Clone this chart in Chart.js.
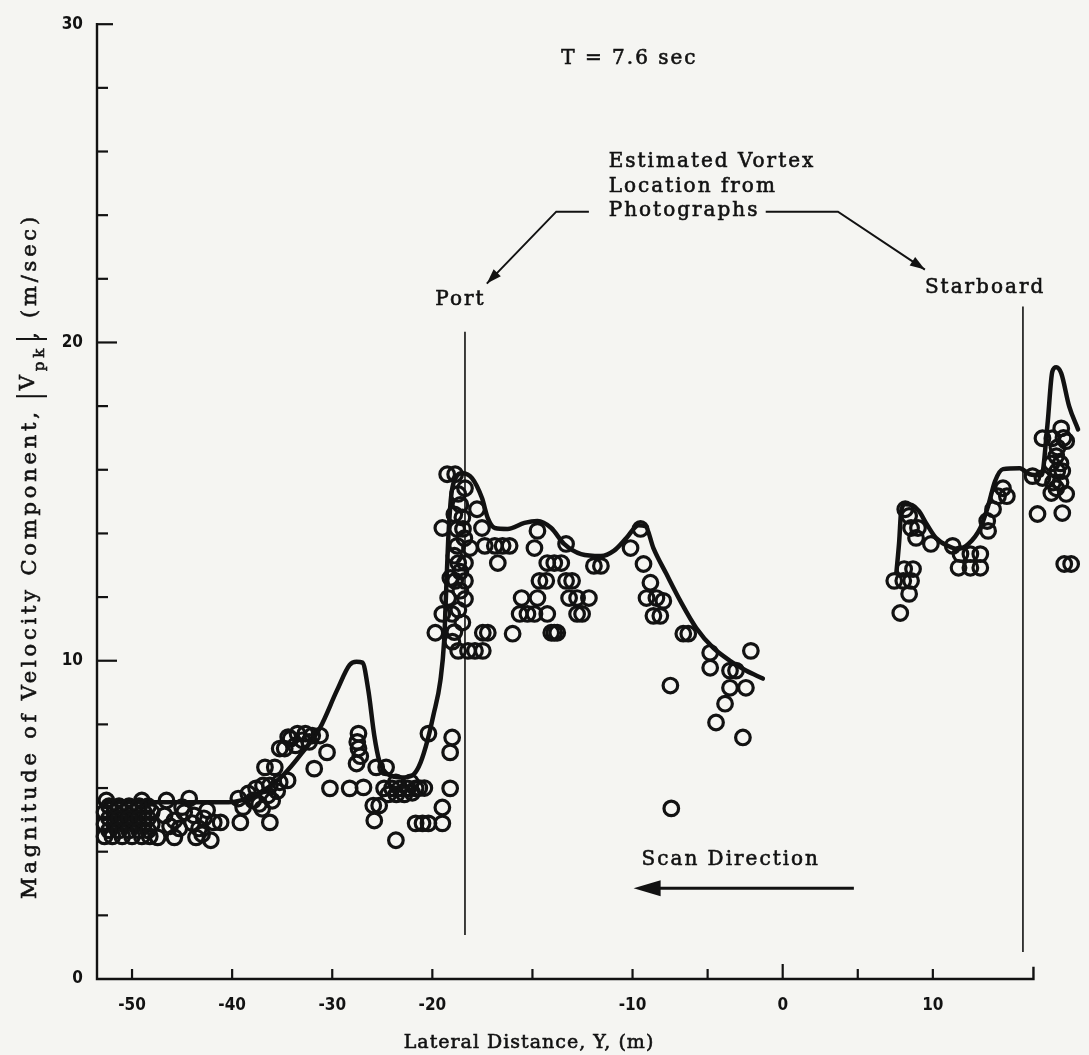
<!DOCTYPE html>
<html>
<head>
<meta charset="utf-8">
<title>Peak velocity component vs lateral distance, T = 7.6 sec</title>
<script src="https://cdn.jsdelivr.net/npm/chart.js@4.4.1/dist/chart.umd.min.js"></script>
<style>
  html, body { margin: 0; padding: 0; background: #f5f5f2; }
  #wrap { position: relative; width: 1089px; height: 1055px; }
</style>
</head>
<body>
<div id="wrap"><canvas id="vpkChart"></canvas></div>
<script>
// scan samples: lateral distance Y (m) and |Vpk| (m/s)
const farPortY = [
  -52.56, -49.02,
  -52.75, -51.77, -50.79, -49.80, -48.82, -48.03,
  -52.75, -51.77, -50.79, -49.80, -48.82, -48.03,
  -52.75, -51.97, -50.98, -50.00, -49.02, -48.23,
  -52.30, -51.30, -50.30, -49.30, -48.40,
  -52.30, -51.30, -50.30, -49.30, -48.40,
  -52.30, -51.30, -50.30, -49.30, -48.40,
  -47.44, -46.56, -44.29, -45.77, -43.61, -42.13, -46.75, -45.77, -44.79, -43.80,
  -42.82, -41.84, -45.28, -43.31, -41.15, -39.18, -36.23, -39.38, -38.39, -37.61,
  -45.00, -44.00, -42.50, -46.20, -43.00,
  -36.92, -36.23, -35.25, -34.46, -37.90, -36.43, -36.72, -35.74, -35.25, -34.75,
  -38.90, -37.30, -36.00, -35.50, -37.00,
  -34.16, -33.47, -32.69, -32.00, -33.67, -31.21, -30.52, -31.80, -30.23, -28.26,
  -33.00, -32.30, -34.40,
  -27.38, -27.38, -27.57, -26.88, -25.90, -25.31, -25.80, -25.61, -24.62,
  -27.50, -27.20,
  -24.82, -24.03, -23.25, -22.46, -21.67, -23.64, -22.16, -23.64, -21.67, -20.98,
  -24.40, -23.60, -22.80, -22.00, -21.30, -20.80,
  -20.39, -19.50, -19.50, -19.11, -20.39, -19.01, -19.11
];
const farPortV = [
  5.61, 5.61,
  5.24, 5.24, 5.24, 5.24, 5.24, 5.24,
  4.86, 4.86, 4.86, 4.86, 4.86, 4.86,
  4.48, 4.48, 4.48, 4.48, 4.48, 4.48,
  5.43, 5.43, 5.43, 5.43, 5.43,
  5.05, 5.05, 5.05, 5.05, 5.05,
  4.67, 4.67, 4.67, 4.67, 4.67,
  4.45, 5.61, 5.67, 4.45, 4.45, 4.36, 5.14, 4.98, 5.24, 5.14,
  5.05, 4.92, 4.73, 4.73, 4.92, 4.92, 4.92, 5.67, 5.83, 5.99,
  5.40, 4.90, 5.30, 4.80, 4.55,
  6.08, 6.08, 6.18, 6.24, 5.61, 5.77, 6.65, 6.65, 7.24, 7.24,
  5.40, 5.50, 5.60, 5.90, 5.35,
  7.55, 7.71, 7.71, 7.65, 7.34, 7.65, 7.12, 6.61, 5.99, 5.99,
  7.50, 7.45, 7.60,
  7.71, 7.24, 6.77, 6.02, 5.45, 5.45, 4.98, 6.65, 6.65,
  7.45, 7.00,
  5.99, 5.99, 5.99, 5.99, 5.99, 6.18, 6.18, 4.36, 4.89, 4.89,
  5.80, 5.80, 5.80, 5.85, 6.00, 6.00,
  4.89, 4.89, 5.39, 5.99, 7.71, 7.59, 7.12
];

const portY = [
  -19.26, -18.86, -18.71, -18.37, -17.77, -17.52, -19.50, -18.76, -18.47,
  -17.38, -16.88, -16.49, -16.14, -18.76, -18.12, -16.73, -18.71, -18.37,
  -18.86, -18.37, -19.21, -18.37, -19.50, -19.01, -19.85, -17.48, -17.23,
  -18.60, -18.90, -18.50, -18.60, -18.90, -18.60, -18.70, -18.90, -18.50, -19.00, -18.40, -19.10,
  -18.71, -18.22, -17.87, -17.48, -15.99, -15.54, -14.75,
  -15.64, -15.25, -14.90, -14.90, -14.75, -14.65, -14.31, -14.26,
  -14.06, -13.91, -13.76,
  -14.26, -13.91, -13.56, -13.32, -13.02, -13.17, -12.77, -12.18,
  -12.77, -12.52, -13.32, -11.93, -11.58, -10.10, -9.47, -9.27, -8.81,
  -9.07, -8.41, -7.95, -8.61, -8.15, -6.62, -6.29, -7.48,
  -4.83, -4.83, -3.51, -3.11, -2.12, -3.51, -2.45, -3.84, -4.44, -2.65, -7.42
];
const portV = [
  15.86, 15.86, 15.24, 15.42, 14.76, 14.17, 14.17, 14.14, 14.14,
  13.61, 13.61, 13.61, 13.61, 13.61, 13.54, 13.07, 13.07, 13.07,
  12.51, 12.51, 11.97, 11.94, 11.47, 11.47, 10.88, 10.88, 10.88,
  14.90, 14.60, 14.50, 12.80, 13.30, 12.20, 11.60, 10.90, 11.20, 10.60, 13.85, 12.60,
  10.31, 10.31, 10.31, 10.31, 10.85, 11.97, 11.97,
  11.47, 11.47, 11.47, 13.54, 14.08, 12.51, 12.51, 11.47,
  10.88, 10.88, 10.88,
  13.07, 13.07, 13.07, 12.51, 12.51, 11.97, 11.97, 11.97,
  11.47, 11.47, 13.67, 12.98, 12.98, 13.54, 14.14, 13.04, 12.45,
  11.97, 11.97, 11.88, 11.41, 11.41, 10.85, 10.85, 9.22,
  10.25, 9.78, 9.69, 9.69, 10.31, 9.15, 9.15, 8.65, 8.06, 7.59, 5.36
];

const starboardY = [
  7.43, 8.03, 8.55, 8.09, 8.68, 8.42, 7.83,
  8.16, 8.42, 8.55, 9.01, 8.88, 9.87,
  11.32, 11.84, 12.50, 13.16, 11.71, 12.50, 13.16,
  13.68, 13.62, 14.01, 14.34, 14.93, 14.67,
  16.64, 17.30, 16.97, 18.62,
  17.30, 17.96, 18.55, 18.88, 18.22, 18.29, 18.62, 18.22, 18.88, 17.89,
  18.30, 18.50, 18.00, 18.50, 18.70, 17.90,
  18.75, 19.21
];
const starboardV = [
  12.51, 12.51, 12.51, 12.88, 12.88, 12.10, 11.50,
  14.76, 14.55, 14.17, 14.17, 13.86, 13.67,
  13.61, 13.35, 13.35, 13.35, 12.92, 12.92, 12.92,
  14.08, 14.39, 14.76, 15.17, 15.17, 15.42,
  15.80, 15.74, 14.61, 14.64,
  16.99, 16.99, 17.30, 16.90, 16.43, 15.96, 15.96, 15.42, 15.24, 15.27,
  16.70, 16.20, 15.60, 15.60, 17.00, 16.20,
  13.04, 13.04
];

// faired envelope through the samples, port side and starboard side
const portCurveY = [
  -52.65, -40.36, -37.41, -34.95, -32.98, -31.21, -29.54, -28.26, -27.57, -26.98,
  -26.39, -25.80, -25.31, -24.43, -22.95, -21.87, -21.18, -20.49, -19.95, -19.60,
  -19.41, -19.31, -19.21, -19.06, -18.86, -18.51, -18.02, -17.52, -17.23, -16.88,
  -16.24, -15.40, -14.75, -14.06, -13.42, -12.57, -11.58, -10.94, -10.30, -9.60,
  -9.14, -8.61, -7.75, -6.82, -5.76, -4.64, -3.51, -2.45, -1.32
];
const portCurveV = [
  5.55, 5.55, 5.83, 6.39, 7.12, 7.90, 9.06, 9.87, 9.97, 9.94,
  9.06, 7.65, 6.87, 6.43, 6.33, 6.43, 6.80, 7.49, 8.28, 9.37,
  10.63, 12.19, 13.76, 15.17, 15.71, 15.89, 15.74, 15.11, 14.48, 14.17,
  14.14, 14.33, 14.39, 14.17, 13.67, 13.35, 13.29, 13.45, 13.86, 14.26,
  14.23, 13.54, 12.73, 11.88, 11.03, 10.41, 10.00, 9.69, 9.44
];
const starCurveY = [
  7.57, 7.76, 7.89, 8.16, 8.62, 9.08, 9.54, 10.20, 10.99, 11.64, 12.37, 13.16,
  13.68, 14.14, 14.67, 15.79, 16.45, 17.24, 17.63, 17.96, 18.22, 18.55, 19.08, 19.67
];
const starCurveV = [
  12.76, 13.76, 14.70, 14.92, 14.89, 14.70, 14.33, 13.86, 13.61, 13.51, 13.67, 14.17,
  14.86, 15.64, 16.02, 16.05, 15.86, 15.83, 17.40, 19.09, 19.22, 19.03, 17.99, 17.27
];

const lateralTicks = [-50, -40, -30, -20, -15, -10, -5, 0, 5, 10];
const lateralLabels = ["-50", "-40", "-30", "-20", "", "-10", "", "0", "", "10"];
const speedTicks = [0, 2, 4, 6, 8, 10, 12, 14, 16, 18, 20, 22, 24, 26, 28, 30];
const speedLabels = ["0", "", "", "", "", "10", "", "", "", "", "20", "", "", "", "", "30"];

const INK = "#121212";
const X_MIN = -53.5;
const X_MAX = 19.7;
const AXIS_END = 16.7;

// the printed distance axis is not uniform: a metre between -20 and -10 is drawn
// twice as wide as one left of -20, and a metre right of -10 one and a half times as wide
const stretches = [
  { from: X_MIN, to: -20, weight: 1 },
  { from: -20, to: -10, weight: 2 },
  { from: -10, to: X_MAX, weight: 1.5 }
];
const stretchTotal = stretches.reduce((sum, s) => sum + (s.to - s.from) * s.weight, 0);

function lateralToDecimal(v) {
  let acc = 0;
  for (let i = 0; i < stretches.length; i++) {
    const s = stretches[i];
    if (v <= s.to || i === stretches.length - 1) {
      return (acc + (v - s.from) * s.weight) / stretchTotal;
    }
    acc += (s.to - s.from) * s.weight;
  }
  return NaN;
}

function decimalToLateral(d) {
  let rest = d * stretchTotal;
  for (let i = 0; i < stretches.length; i++) {
    const s = stretches[i];
    const len = (s.to - s.from) * s.weight;
    if (rest <= len || i === stretches.length - 1) {
      return s.from + rest / s.weight;
    }
    rest -= len;
  }
  return NaN;
}

class StretchedScale extends Chart.LinearScale {
  getPixelForValue(value) {
    if (value === null || value === undefined || Number.isNaN(value)) return NaN;
    return this.getPixelForDecimal(lateralToDecimal(value));
  }
  getValueForPixel(pixel) {
    return decimalToLateral(this.getDecimalForPixel(pixel));
  }
}
StretchedScale.id = "stretched";
StretchedScale.defaults = {};
Chart.register(StretchedScale);

function toPoints(xs, ys) {
  return xs.map((x, i) => ({ x, y: ys[i] }));
}

const circleStyle = {
  pointStyle: "circle",
  pointRadius: 7.3,
  pointBorderWidth: 3.2,
  pointBackgroundColor: "rgba(0,0,0,0)",
  pointBorderColor: INK,
  showLine: false,
  clip: false
};

const curveStyle = {
  showLine: true,
  pointRadius: 0,
  borderColor: INK,
  borderWidth: 4.5,
  borderCapStyle: "round",
  borderJoinStyle: "round",
  cubicInterpolationMode: "monotone",
  fill: false,
  clip: false
};

const serif = '"DejaVu Serif", "Liberation Serif", serif';

// typewritten lettering: a little tracking and a thin outline to thicken the strokes
function drawText(ctx, str, px, py, spacing) {
  ctx.letterSpacing = spacing || "0px";
  ctx.fillText(str, px, py);
  ctx.lineWidth = 0.6;
  ctx.strokeText(str, px, py);
  ctx.letterSpacing = "0px";
}

function arrowHead(ctx, tipX, tipY, fromX, fromY, len, half) {
  const a = Math.atan2(tipY - fromY, tipX - fromX);
  const bx = tipX - Math.cos(a) * len;
  const by = tipY - Math.sin(a) * len;
  ctx.beginPath();
  ctx.moveTo(tipX, tipY);
  ctx.lineTo(bx + Math.sin(a) * half, by - Math.cos(a) * half);
  ctx.lineTo(bx - Math.sin(a) * half, by + Math.cos(a) * half);
  ctx.closePath();
  ctx.fill();
}

// axes are drawn by hand: ticks point inward and the distance axis stops short of the frame
const printedAxes = {
  id: "printedAxes",
  beforeDatasetsDraw(chart) {
    const { ctx, chartArea, scales: { x, y } } = chart;
    const left = chartArea.left;
    const base = y.getPixelForValue(0);
    ctx.save();
    ctx.strokeStyle = INK;
    ctx.lineWidth = 2.4;
    ctx.lineCap = "square";

    ctx.beginPath();
    ctx.moveTo(left, y.getPixelForValue(30));
    ctx.lineTo(left, base);
    const xEnd = x.getPixelForValue(AXIS_END);
    ctx.lineTo(xEnd, base);
    ctx.lineTo(xEnd, base - 11);
    ctx.stroke();

    ctx.lineWidth = 2.2;
    ctx.lineCap = "butt";
    speedTicks.forEach((v) => {
      if (v === 0) return;
      const len = v === 30 ? 16 : v % 10 === 0 ? 20 : 11;
      const py = y.getPixelForValue(v);
      ctx.beginPath();
      ctx.moveTo(left, py);
      ctx.lineTo(left + len, py);
      ctx.stroke();
    });
    lateralTicks.forEach((v) => {
      const len = v === 0 ? 15 : 10;
      const px = x.getPixelForValue(v);
      ctx.beginPath();
      ctx.moveTo(px, base);
      ctx.lineTo(px, base - len);
      ctx.stroke();
    });
    ctx.restore();
  },
  afterDraw(chart) {
    const { ctx, scales: { x, y } } = chart;
    const X = (v) => x.getPixelForValue(v);
    const Y = (v) => y.getPixelForValue(v);
    ctx.save();
    ctx.fillStyle = INK;
    ctx.strokeStyle = INK;

    // estimated vortex positions
    ctx.lineWidth = 1.6;
    ctx.beginPath();
    ctx.moveTo(X(-18.37), Y(20.34));
    ctx.lineTo(X(-18.37), Y(1.38));
    ctx.moveTo(X(16.0), Y(21.13));
    ctx.lineTo(X(16.0), Y(0.85));
    ctx.stroke();

    ctx.font = "20px " + serif;
    ctx.textAlign = "left";
    ctx.textBaseline = "alphabetic";
    drawText(ctx, "T = 7.6 sec", X(-13.56), Y(28.75), "2px");
    drawText(ctx, "Estimated Vortex", X(-11.19), Y(25.52), "2px");
    drawText(ctx, "Location from", X(-11.19), Y(24.73), "2px");
    drawText(ctx, "Photographs", X(-11.19), Y(23.98), "2px");
    drawText(ctx, "Port", X(-19.85), Y(21.19), "2px");
    drawText(ctx, "Starboard", X(9.47), Y(21.54), "2px");
    drawText(ctx, "Scan Direction", X(-9.40), Y(3.57), "2px");

    // leaders from the note to each vortex label
    ctx.lineWidth = 2;
    ctx.beginPath();
    ctx.moveTo(X(-12.18), Y(24.11));
    ctx.lineTo(X(-13.81), Y(24.11));
    ctx.lineTo(X(-17.28), Y(21.85));
    ctx.moveTo(X(-1.13), Y(24.11));
    ctx.lineTo(X(3.68), Y(24.11));
    ctx.lineTo(X(9.47), Y(22.29));
    ctx.stroke();
    arrowHead(ctx, X(-17.28), Y(21.85), X(-13.81), Y(24.11), 15, 5);
    arrowHead(ctx, X(9.47), Y(22.29), X(3.68), Y(24.11), 15, 5);

    // scan direction arrow
    ctx.lineWidth = 3;
    ctx.beginPath();
    ctx.moveTo(X(4.74), Y(2.85));
    ctx.lineTo(X(-8.4), Y(2.85));
    ctx.stroke();
    arrowHead(ctx, X(-9.93), Y(2.85), X(4.74), Y(2.85), 27, 8);

    // axis titles
    ctx.font = "19px " + serif;
    ctx.textAlign = "center";
    ctx.textBaseline = "middle";
    drawText(ctx, "Lateral Distance, Y, (m)", 529, 1043, "1px");

    ctx.translate(31, 556);
    ctx.rotate(-Math.PI / 2);
    const main = "21px " + serif;
    const small = "15px " + serif;
    const track = "3.8px";
    ctx.textAlign = "left";
    ctx.letterSpacing = track;
    ctx.font = main;
    const head = "Magnitude of Velocity Component,";
    const tail = ", (m/sec)";
    const wHead = ctx.measureText(head).width;
    const wV = ctx.measureText("V").width;
    const wTail = ctx.measureText(tail).width;
    ctx.font = small;
    const wSub = ctx.measureText("pk").width;
    const total = wHead + 12 + 6 + wV + wSub + 6 + wTail;
    let cx = -total / 2;
    ctx.font = main;
    drawText(ctx, head, cx, 0, track);
    cx += wHead + 12;
    ctx.lineWidth = 2;
    ctx.beginPath();
    ctx.moveTo(cx, -15);
    ctx.lineTo(cx, 16);
    ctx.stroke();
    cx += 6;
    drawText(ctx, "V", cx, -2, track);
    cx += wV;
    ctx.font = small;
    drawText(ctx, "pk", cx, 9, track);
    cx += wSub + 6;
    ctx.lineWidth = 2;
    ctx.beginPath();
    ctx.moveTo(cx, -15);
    ctx.lineTo(cx, 16);
    ctx.stroke();
    ctx.font = main;
    drawText(ctx, tail, cx, 0, track);
    ctx.restore();
  }
};

const tickFont = { family: '"DejaVu Sans Condensed", "DejaVu Sans", sans-serif', size: 17, weight: "bold" };

new Chart(document.getElementById("vpkChart"), {
  type: "scatter",
  data: {
    datasets: [
      { label: "samples far port", data: toPoints(farPortY, farPortV), ...circleStyle },
      { label: "samples port", data: toPoints(portY, portV), ...circleStyle },
      { label: "samples starboard", data: toPoints(starboardY, starboardV), ...circleStyle },
      { label: "envelope port", data: toPoints(portCurveY, portCurveV), ...curveStyle },
      { label: "envelope starboard", data: toPoints(starCurveY, starCurveV), ...curveStyle }
    ]
  },
  options: {
    responsive: true,
    maintainAspectRatio: false,
    animation: false,
    events: [],
    layout: { padding: { top: 22, right: 0, left: 0, bottom: 0 } },
    plugins: {
      legend: { display: false },
      tooltip: { enabled: false }
    },
    scales: {
      x: {
        type: "stretched",
        min: X_MIN,
        max: X_MAX,
        grid: { display: false, drawTicks: false },
        border: { display: false },
        afterBuildTicks(scale) {
          scale.ticks = lateralTicks.map((value) => ({ value }));
        },
        afterFit(scale) {
          scale.height = 76;
        },
        ticks: {
          autoSkip: false,
          maxRotation: 0,
          padding: 16,
          color: INK,
          font: tickFont,
          callback: (value, index) => lateralLabels[index]
        }
      },
      y: {
        type: "linear",
        min: 0,
        max: 30,
        grid: { display: false, drawTicks: false },
        border: { display: false },
        afterBuildTicks(scale) {
          scale.ticks = speedTicks.map((value) => ({ value }));
        },
        afterFit(scale) {
          scale.width = 97;
        },
        ticks: {
          autoSkip: false,
          padding: 14,
          color: INK,
          font: tickFont,
          callback: (value, index) => speedLabels[index]
        }
      }
    }
  },
  plugins: [printedAxes]
});
</script>
</body>
</html>
